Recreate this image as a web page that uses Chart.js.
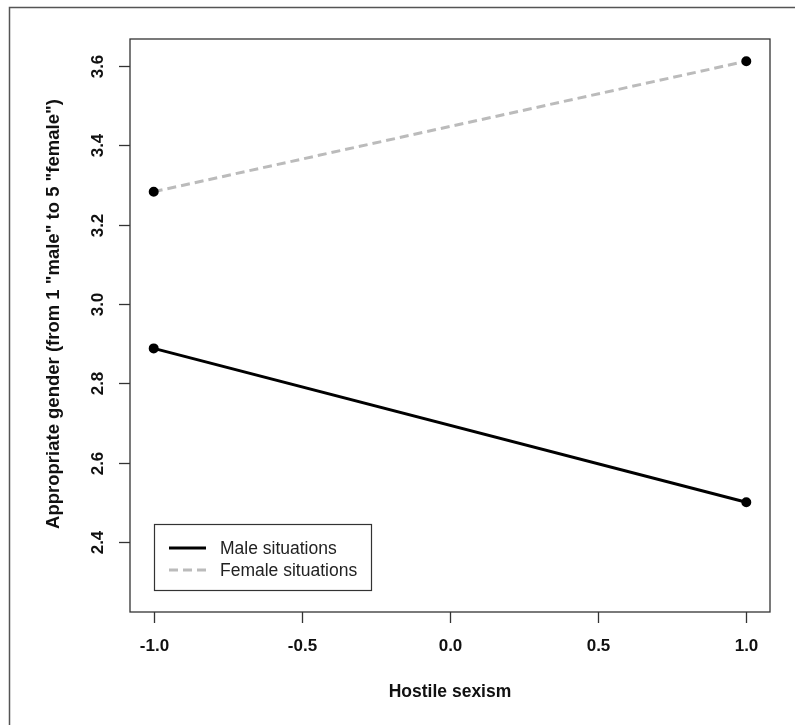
<!DOCTYPE html>
<html>
<head>
<meta charset="utf-8">
<script src="https://cdn.jsdelivr.net/npm/chart.js@4.4.1/dist/chart.umd.min.js"></script>
<style>
  html, body { margin: 0; padding: 0; background: #fff; }
  #wrap { width: 795px; height: 725px; }
</style>
</head>
<body>
<div id="wrap"><canvas id="c" width="795" height="725"></canvas></div>
<script>
const xValues = [-1, 1]
const maleValues = [2.888, 2.50]
const femaleValues = [3.283, 3.612]
const xTicks = [-1.0, -0.5, 0.0, 0.5, 1.0]
const yTicks = [2.4, 2.6, 2.8, 3.0, 3.2, 3.4, 3.6]
const seriesNames = ['Male situations', 'Female situations']

const FONT = '"Liberation Sans", Arial, sans-serif'

// R style box, ticks, titles and legend drawn around the chart area
const rAxes = {
  id: 'rAxes',
  afterDraw(chart) {
    const ctx = chart.ctx
    const area = chart.chartArea
    const xs = chart.scales.x
    const ys = chart.scales.y
    ctx.save()

    // outer figure frame
    ctx.strokeStyle = '#555'
    ctx.lineWidth = 1.5
    ctx.strokeRect(9.5, 7.5, 800, 730)

    // plot box
    ctx.strokeStyle = '#333'
    ctx.lineWidth = 1.3
    ctx.strokeRect(area.left, area.top, area.right - area.left, area.bottom - area.top)

    ctx.fillStyle = '#111'
    ctx.font = 'bold 17px ' + FONT

    // x ticks
    ctx.textAlign = 'center'
    ctx.textBaseline = 'middle'
    xTicks.forEach(v => {
      const px = Math.round(xs.getPixelForValue(v)) + 0.5
      ctx.beginPath()
      ctx.moveTo(px, area.bottom)
      ctx.lineTo(px, area.bottom + 11)
      ctx.stroke()
      ctx.fillText(v.toFixed(1), px, 646)
    })

    // y ticks, labels rotated like R
    yTicks.forEach(v => {
      const py = Math.round(ys.getPixelForValue(v)) + 0.5
      ctx.beginPath()
      ctx.moveTo(area.left - 11, py)
      ctx.lineTo(area.left, py)
      ctx.stroke()
      ctx.save()
      ctx.translate(98, py)
      ctx.rotate(-Math.PI / 2)
      ctx.fillText(v.toFixed(1), 0, 0)
      ctx.restore()
    })

    // axis titles
    ctx.font = 'bold 17.5px ' + FONT
    ctx.fillText('Hostile sexism', (area.left + area.right) / 2, 692)
    ctx.save()
    ctx.translate(54, 314)
    ctx.rotate(-Math.PI / 2)
    ctx.font = 'bold 18.5px ' + FONT
    ctx.fillText('Appropriate gender (from 1 "male" to 5 "female")', 0, 0)
    ctx.restore()

    // legend
    ctx.strokeStyle = '#333'
    ctx.lineWidth = 1.2
    ctx.strokeRect(154.5, 524.5, 217, 66)
    ctx.font = '17.5px ' + FONT
    ctx.textAlign = 'left'
    ctx.fillStyle = '#222'
    const rows = [
      { y: 548, color: '#000', dash: [] },
      { y: 570, color: '#bbb', dash: [9, 5] }
    ]
    rows.forEach((r, i) => {
      ctx.strokeStyle = r.color
      ctx.lineWidth = 3
      ctx.setLineDash(r.dash)
      ctx.beginPath()
      ctx.moveTo(169, r.y)
      ctx.lineTo(206, r.y)
      ctx.stroke()
      ctx.setLineDash([])
      ctx.fillText(seriesNames[i], 220, r.y + 1)
    })

    ctx.restore()
  }
}

new Chart(document.getElementById('c'), {
  type: 'line',
  data: {
    datasets: [
      {
        label: seriesNames[0],
        data: xValues.map((x, i) => ({ x: x, y: maleValues[i] })),
        borderColor: '#000',
        borderWidth: 3,
        pointRadius: 3.5,
        pointBackgroundColor: '#000',
        pointBorderColor: '#000',
        tension: 0
      },
      {
        label: seriesNames[1],
        data: xValues.map((x, i) => ({ x: x, y: femaleValues[i] })),
        borderColor: '#bbb',
        borderWidth: 3,
        borderDash: [9, 5],
        pointRadius: 3.5,
        pointBackgroundColor: '#000',
        pointBorderColor: '#000',
        tension: 0
      }
    ]
  },
  options: {
    responsive: false,
    animation: false,
    layout: { padding: { left: 130, right: 25, top: 39, bottom: 113 } },
    plugins: { legend: { display: false }, tooltip: { enabled: false } },
    scales: {
      x: { type: 'linear', min: -1.08, max: 1.08, display: false },
      y: { type: 'linear', min: 2.2235, max: 3.668, display: false }
    }
  },
  plugins: [rAxes]
})
</script>
</body>
</html>
